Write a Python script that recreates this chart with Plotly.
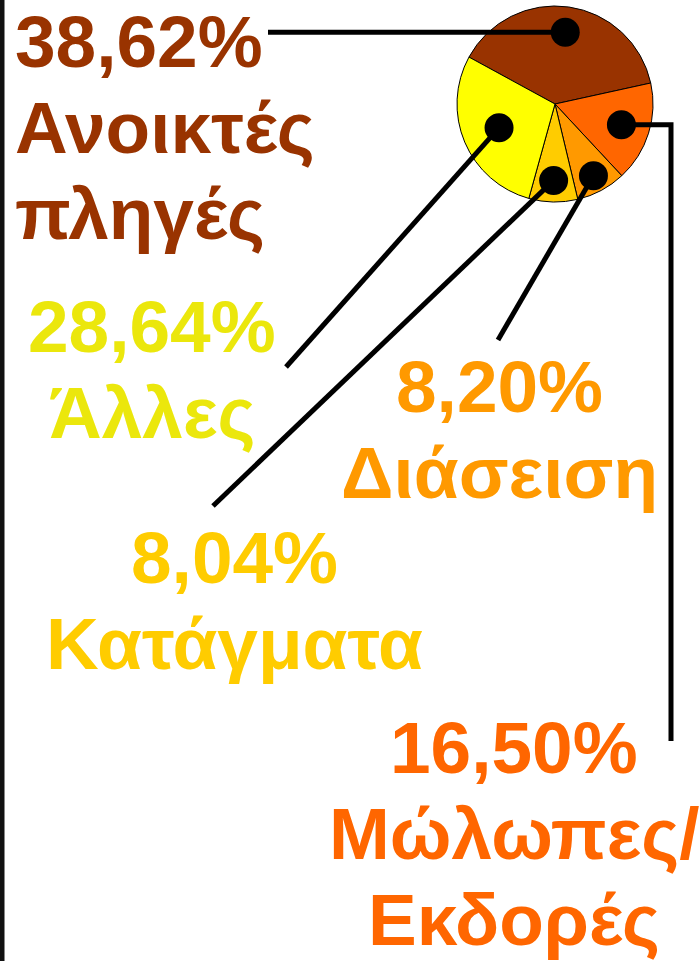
import math
import plotly.graph_objects as go

# ---- data ----
categories = ["Ανοικτές πληγές", "Μώλωπες/Εκδορές", "Διάσειση", "Κατάγματα", "Άλλες"]
values = [38.62, 16.50, 8.20, 8.04, 28.64]
pct_labels = ["38,62%", "16,50%", "8,20%", "8,04%", "28,64%"]
label_lines = [["Ανοικτές", "πληγές"], ["Μώλωπες/", "Εκδορές"], ["Διάσειση"], ["Κατάγματα"], ["Άλλες"]]

# ---- styles / layout ----
slice_colors = ["#993300", "#FF6600", "#FF9900", "#FFCC00", "#FFFF00"]
text_colors = ["#993300", "#FF6600", "#FF9900", "#FFCC00", "#EBE70C"]

W, H = 700, 961
CX, CY, R = 555, 104, 98
START = 151.4                      # angle (deg, counter-clockwise from +x) of first slice edge
dot_frac = [0.74, 0.71, 0.83, 0.78, 0.62]
DOT_D = 29
FS = 73
LINE_GAP = 86
# (x, first-line baseline, align)
label_pos = [(13, 67, "left"), (514, 773, "center"), (499, 412, "center"),
             (234, 583, "center"), (152, 352, "center")]

total = sum(values)
cum = 0
dots = []
for v, f in zip(values, dot_frac):
    mid = START - 360 * (cum + v / 2) / total
    cum += v
    a = math.radians(mid)
    dots.append((CX + f * R * math.cos(a), CY - f * R * math.sin(a)))

# leader line routes from each dot
def route(i, d):
    x, y = d
    if i == 0:
        return [(x, y), (268, y)]
    if i == 1:
        return [(x, y), (671, y), (671, 741)]
    if i == 2:
        return [(x, y), (498, 340)]
    if i == 3:
        return [(x, y), (213, 506)]
    return [(x, y), (286, 367)]

fig = go.Figure()
fig.add_trace(go.Scatter(x=[0, W], y=[0, H], mode="markers", marker=dict(opacity=0),
                         hoverinfo="skip", showlegend=False))
fig.add_trace(go.Pie(
    labels=categories, values=values, sort=False, direction="clockwise",
    rotation=90 - START, textinfo="none", hoverinfo="skip", showlegend=False,
    marker=dict(colors=slice_colors, line=dict(color="black", width=1)),
    domain=dict(x=[(CX - R) / W, (CX + R) / W], y=[1 - (CY + R) / H, 1 - (CY - R) / H]),
))

shapes = []
# left border
shapes.append(dict(type="line", xref="x", yref="y", x0=2, x1=2, y0=0, y1=H,
                   line=dict(color="#111111", width=5), layer="above"))
for i, d in enumerate(dots):
    pts = route(i, d)
    path = "M " + " L ".join(f"{px:.1f},{py:.1f}" for px, py in pts)
    shapes.append(dict(type="path", xref="x", yref="y", path=path,
                       line=dict(color="black", width=5), layer="above"))
for d in dots:
    shapes.append(dict(type="circle", xref="x", yref="y",
                       x0=d[0] - DOT_D / 2, x1=d[0] + DOT_D / 2,
                       y0=d[1] - DOT_D / 2, y1=d[1] + DOT_D / 2,
                       fillcolor="black", line=dict(color="black", width=0), layer="above"))

annotations = []
for i, (pct, lines) in enumerate(zip(pct_labels, label_lines)):
    x, base, align = label_pos[i]
    for j, t in enumerate([pct] + lines):
        annotations.append(dict(
            x=x, y=base + j * LINE_GAP - 0.3465 * FS, xref="x", yref="y",
            text=f"<b>{t}</b>", showarrow=False,
            xanchor=align, yanchor="middle",
            font=dict(family="Liberation Sans, Arial, sans-serif", size=FS, color=text_colors[i]),
        ))

fig.update_layout(
    width=W, height=H, margin=dict(l=0, r=0, t=0, b=0),
    paper_bgcolor="white", plot_bgcolor="white",
    xaxis=dict(range=[0, W], visible=False, fixedrange=True),
    yaxis=dict(range=[H, 0], visible=False, fixedrange=True),
    shapes=shapes, annotations=annotations,
)
fig.write_html("out.html", config={"displayModeBar": False},
               post_script="document.body.style.margin='0';document.body.style.overflow='hidden';")
